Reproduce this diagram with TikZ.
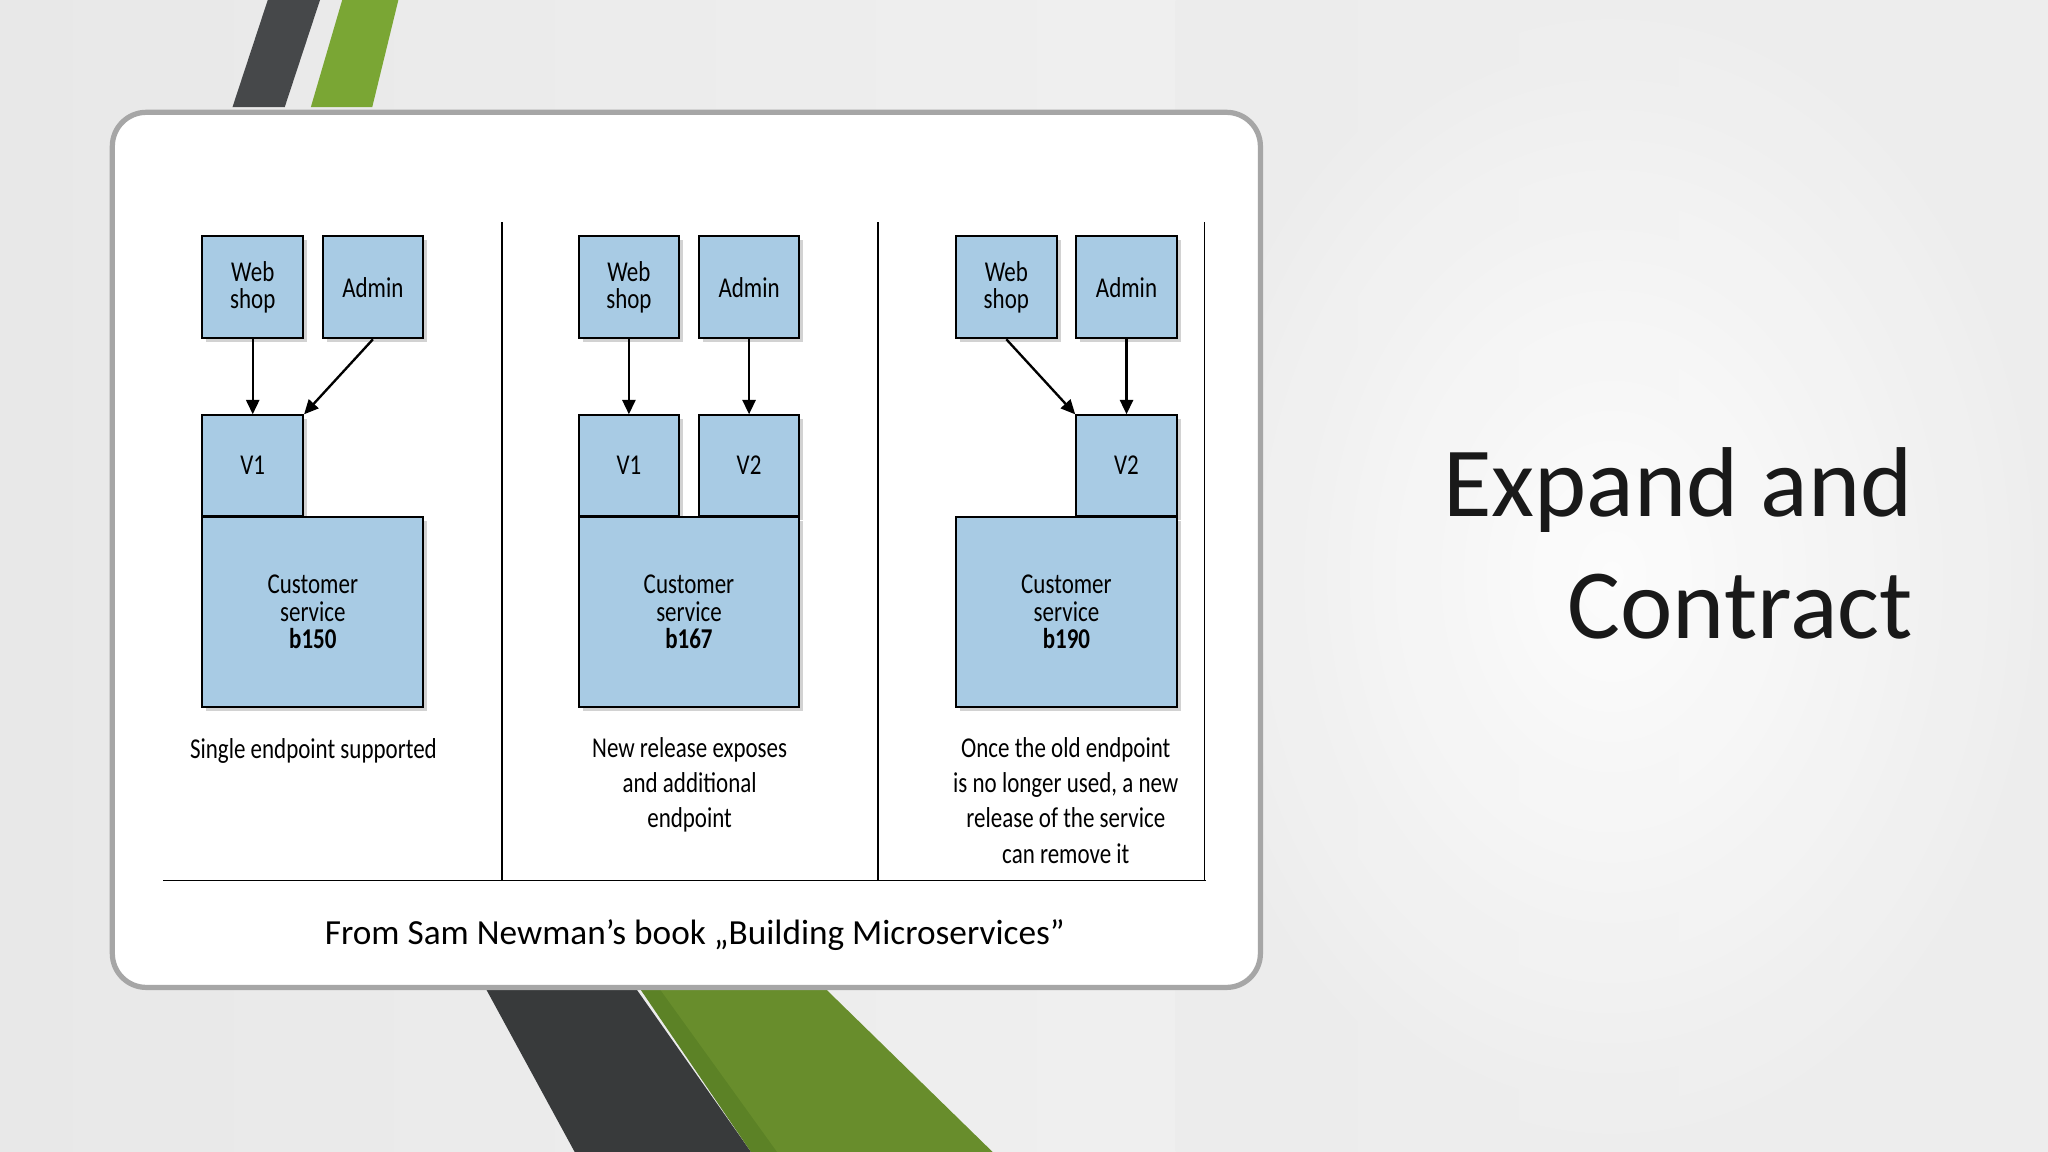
\documentclass[tikz,border=0pt]{standalone}
\usepackage{fontspec}
\setmainfont{Carlito}
\newfontfamily\condf[FakeStretch=0.80]{Carlito}
\usetikzlibrary{arrows.meta,shadows}
\definecolor{boxblue}{RGB}{168,203,228}
\definecolor{darkstripe}{RGB}{70,72,74}
\definecolor{greenstripe}{RGB}{122,166,52}
\definecolor{greendark}{RGB}{92,130,38}
\tikzset{
  bx/.style={draw=black, line width=1.6pt, fill=boxblue, drop shadow={shadow xshift=3pt, shadow yshift=-3pt, opacity=0.35}, align=center, font=\condf\fontsize{22}{25}\selectfont},
  arr/.style={-{Triangle[length=11pt,width=10pt]}, line width=1.8pt},
  captxt/.style={align=center, font=\condf\fontsize{22}{27}\selectfont},
}
\begin{document}
\begin{tikzpicture}[x=1pt,y=-1pt]
\useasboundingbox (0,0) rectangle (1568,882);
\shade[left color=white!82!gray, right color=white!92!gray] (0,0) rectangle (1568,882);
\shade[inner color=white, outer color=white!85!gray, opacity=0.8] (900,0) rectangle (1568,882);
% stripes
\fill[darkstripe] (205,0) -- (245,0) -- (218,82) -- (178,82) -- cycle;
\fill[greenstripe] (262,0) -- (305,0) -- (285,82) -- (238,82) -- cycle;
\fill[darkstripe!80!black] (372,757) -- (487,757) -- (575,882) -- (440,882) -- cycle;
\fill[greendark] (490,757) -- (520,757) -- (605,882) -- (575,882) -- cycle;
\fill[greenstripe!85!black] (505,757) -- (632,757) -- (760,882) -- (595,882) -- cycle;
% card
\draw[line width=4pt, draw=gray!70, fill=white, rounded corners=26pt] (86,86) rectangle (965,756);
% dividers
\draw[line width=1.6pt] (384,170) -- (384,674);
\draw[line width=1.6pt] (672,170) -- (672,674);
\draw[line width=0.8pt] (922,170) -- (922,674);
\draw[line width=1.2pt] (125,674) -- (923,674);
% panel 1
\node[bx, minimum width=77pt, minimum height=78pt] (w1) at (193.5,220) {Web\\[-4pt]shop};
\node[bx, minimum width=77pt, minimum height=78pt] (a1) at (285.5,220) {Admin};
\node[bx, minimum width=77pt, minimum height=77pt] (v11) at (193.5,356.5) {V1};
\node[bx, minimum width=169pt, minimum height=145pt] (c1) at (239.5,468.5) {Customer\\[-4pt]service\\[-4pt]\textbf{b150}};
\draw[arr] (w1.south) -- (v11.north);
\draw[arr] (a1.south) -- (v11.north east);
\node[captxt] (t1) at (240,575) {Single endpoint supported};
% panel 2
\node[bx, minimum width=77pt, minimum height=78pt] (w2) at (481.5,220) {Web\\[-4pt]shop};
\node[bx, minimum width=77pt, minimum height=78pt] (a2) at (573.5,220) {Admin};
\node[bx, minimum width=77pt, minimum height=77pt] (v12) at (481.5,356.5) {V1};
\node[bx, minimum width=77pt, minimum height=77pt] (v22) at (573.5,356.5) {V2};
\node[bx, minimum width=169pt, minimum height=145pt] (c2) at (527.5,468.5) {Customer\\[-4pt]service\\[-4pt]\textbf{b167}};
\draw[arr] (w2.south) -- (v12.north);
\draw[arr] (a2.south) -- (v22.north);
\node[captxt, anchor=north] (t2) at (528,561) {New release exposes\\and additional\\endpoint};
% panel 3
\node[bx, minimum width=77pt, minimum height=78pt] (w3) at (770.5,220) {Web\\[-4pt]shop};
\node[bx, minimum width=77pt, minimum height=78pt] (a3) at (862.5,220) {Admin};
\node[bx, minimum width=77pt, minimum height=77pt] (v23) at (862.5,356.5) {V2};
\node[bx, minimum width=169pt, minimum height=145pt] (c3) at (816.5,468.5) {Customer\\[-4pt]service\\[-4pt]\textbf{b190}};
\draw[arr] (w3.south) -- (v23.north west);
\draw[arr] (a3.south) -- (v23.north);
\node[captxt, anchor=north] (t3) at (816,561) {Once the old endpoint\\is no longer used, a new\\release of the service\\can remove it};
% source
\node[font=\fontsize{27}{30}\selectfont] (src) at (532,716) {From Sam Newman’s book „Building Microservices”};
% title
\node[anchor=east, align=right, font=\fontsize{76}{94}\selectfont, text=black!90] (title) at (1468,416) {Expand and\\Contract};
\end{tikzpicture}
\end{document}
